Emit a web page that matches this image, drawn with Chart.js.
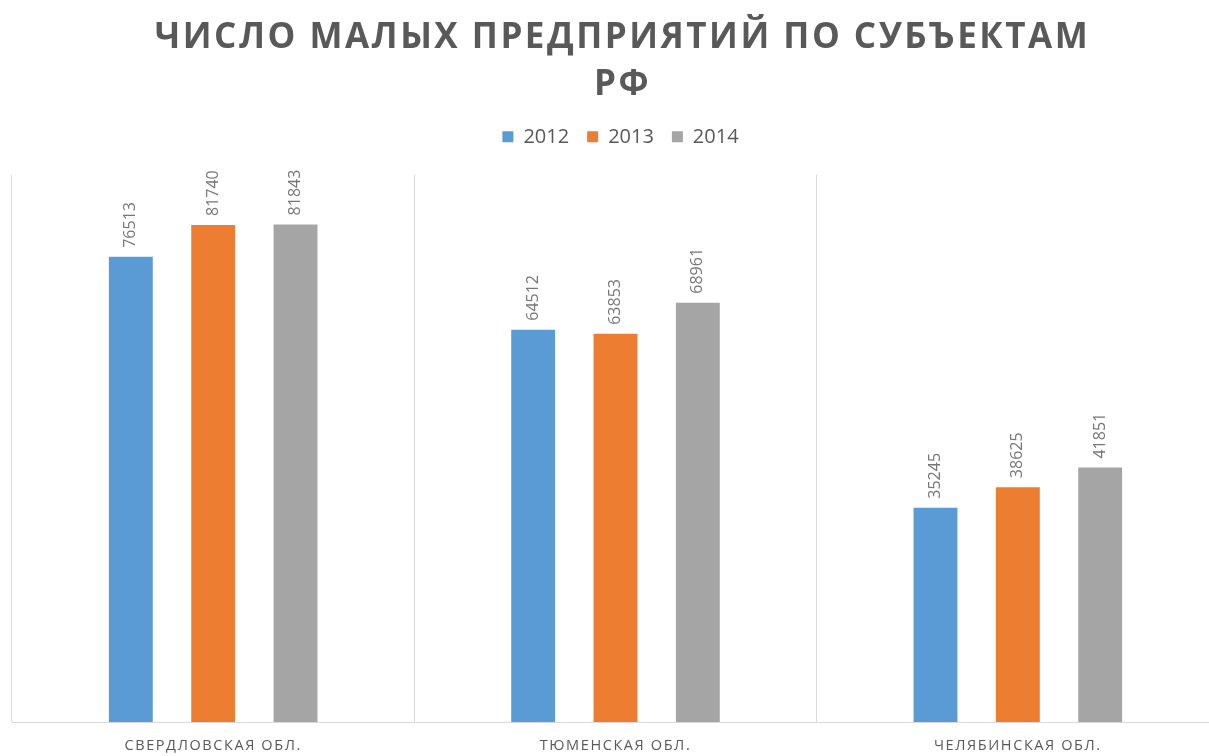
<!DOCTYPE html>
<html>
<head>
<meta charset="utf-8">
<script src="https://cdn.jsdelivr.net/npm/chart.js@4"></script>
<style>
  html, body { margin: 0; padding: 0; background: #fff; overflow: hidden; }
  canvas { display: block; }
</style>
</head>
<body>
<canvas id="chart" width="1219" height="756"></canvas>
<script>
// Данные
var regions = ['СВЕРДЛОВСКАЯ ОБЛ.', 'ТЮМЕНСКАЯ ОБЛ.', 'ЧЕЛЯБИНСКАЯ ОБЛ.'];
var years = ['2012', '2013', '2014'];
var values2012 = [76513, 64512, 35245];
var values2013 = [81740, 63853, 38625];
var values2014 = [81843, 68961, 41851];
var colors = ['#5B9BD5', '#ED7D31', '#A5A5A5'];
var textColor = '#595959';

// подписи значений, повернутые вертикально
var valueLabels = {
    id: 'valueLabels',
    afterDatasetsDraw: function (chart) {
        var ctx = chart.ctx;
        ctx.save();
        ctx.font = '16px "Open Sans"';
        ctx.fillStyle = '#767676';
        ctx.textAlign = 'left';
        ctx.textBaseline = 'middle';
        chart.data.datasets.forEach(function (ds, i) {
            chart.getDatasetMeta(i).data.forEach(function (bar, j) {
                ctx.save();
                ctx.translate(bar.x, bar.y - 9);
                ctx.rotate(-Math.PI / 2);
                ctx.fillText(String(ds.data[j]), 0, 0);
                ctx.restore();
            });
        });
        ctx.restore();
    }
};

var ctx = document.getElementById('chart').getContext('2d');
var datasets = [values2012, values2013, values2014].map(function (vals, i) {
    return {
        label: years[i],
        data: vals,
        backgroundColor: colors[i],
        borderWidth: 0,
        categoryPercentage: 0.614,
        barPercentage: 0.533
    };
});

var chart = new Chart(ctx, {
    type: 'bar',
    data: { labels: regions, datasets: datasets },
    options: {
        responsive: false,
        animation: false,
        devicePixelRatio: 1,
        layout: { padding: { left: 12, right: 0, top: 0, bottom: 0 } },
        plugins: {
            title: {
                display: true,
                text: ['ЧИСЛО МАЛЫХ ПРЕДПРИЯТИЙ ПО СУБЪЕКТАМ', 'РФ'],
                color: textColor,
                font: { family: '"Open Sans"', size: 35, weight: 'bold', lineHeight: 1.34 },
                padding: { top: 15, bottom: 0 }
            },
            legend: {
                display: true,
                position: 'top',
                labels: {
                    color: textColor,
                    font: { family: '"Open Sans"', size: 20 },
                    boxWidth: 11,
                    boxHeight: 11,
                    padding: 18
                }
            },
            tooltip: { enabled: false }
        },
        scales: {
            x: {
                grid: { color: '#D9D9D9', drawTicks: false, offset: true },
                border: { color: '#D9D9D9' },
                ticks: {
                    color: textColor,
                    font: { family: '"Open Sans"', size: 14.5 },
                    padding: 15
                },
                afterFit: function (scale) { scale.height = 34; }
            },
            y: {
                display: false,
                min: 0,
                max: 90000
            }
        }
    },
    plugins: [valueLabels]
});

// разрядка букв и сдвиг: заголовок, легенда, подписи категорий
var withSpacing = function (obj, name, sp, dx) {
    var orig = obj[name].bind(obj);
    obj[name] = function () {
        chart.ctx.save();
        chart.ctx.letterSpacing = sp;
        chart.ctx.translate(dx, 0);
        orig.apply(null, arguments);
        chart.ctx.restore();
    };
};
withSpacing(chart.titleBlock, 'draw', '2.5px', 7);
withSpacing(chart.legend, 'draw', '0px', 5);
withSpacing(chart.scales.x, 'drawLabels', '1.6px', 0);

// отступ между легендой и областью графика
var origFit = chart.legend.fit.bind(chart.legend);
chart.legend.fit = function () {
    origFit();
    this.height += 18;
};
chart.update();
</script>
</body>
</html>
